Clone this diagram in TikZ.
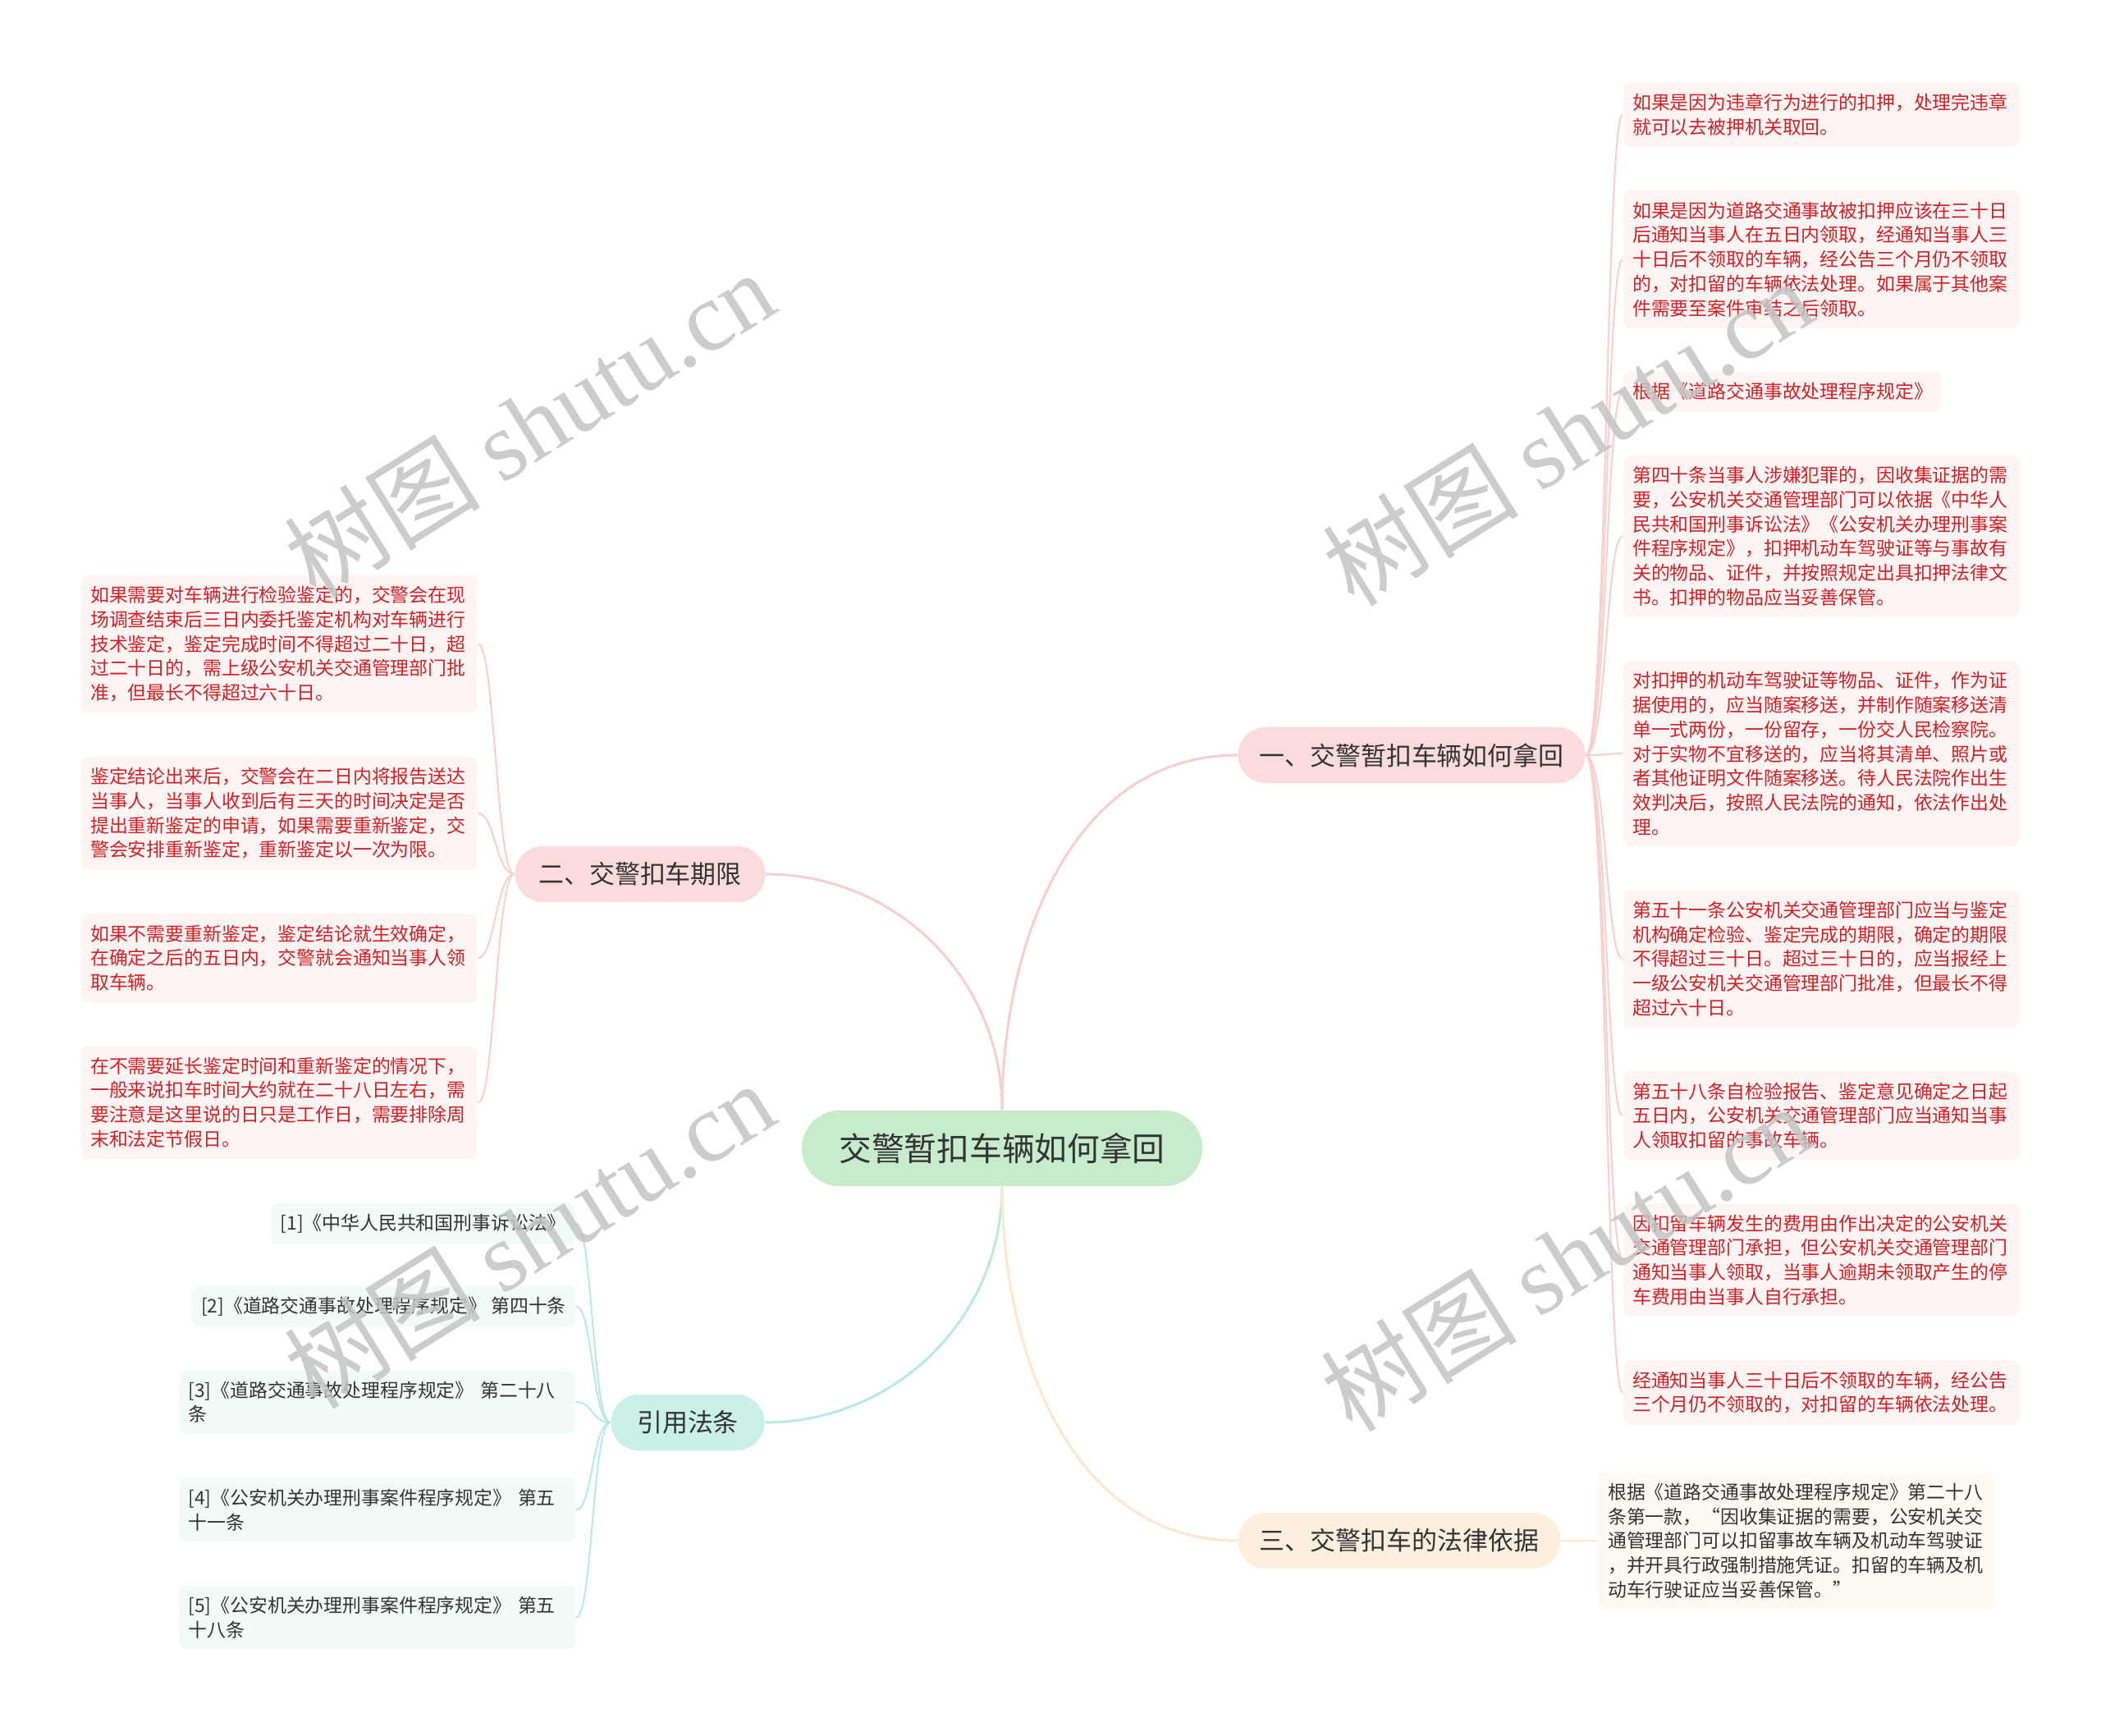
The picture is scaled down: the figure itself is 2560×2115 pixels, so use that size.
\documentclass[tikz,border=0pt]{standalone}
\usepackage{fontspec}
\setmainfont{Noto Sans CJK SC}
\newfontfamily\wmfont{Liberation Serif}
\usetikzlibrary{positioning}

\definecolor{rootgreen}{RGB}{198,236,204}
\definecolor{branchpink}{RGB}{251,219,219}
\definecolor{branchteal}{RGB}{202,240,234}
\definecolor{branchpeach}{RGB}{253,239,222}
\definecolor{leafpink}{RGB}{253,244,244}
\definecolor{leafteal}{RGB}{243,250,250}
\definecolor{leafpeach}{RGB}{253,250,244}
\definecolor{leafred}{RGB}{206,34,38}
\definecolor{textgray}{RGB}{51,51,51}
\definecolor{linkpink}{RGB}{247,208,208}
\definecolor{linkteal}{RGB}{188,234,227}
\definecolor{linkpeach}{RGB}{253,232,208}
\definecolor{wmgray}{RGB}{196,196,196}

\begin{document}
\begin{tikzpicture}[x=0.01cm,y=-0.01cm,
    root/.style={rectangle,rounded corners=0.46cm,fill=rootgreen,text=textgray,font=\fontsize{11.3pt}{14pt}\selectfont,minimum width=4.88cm,minimum height=0.92cm,inner sep=0pt},
    branch/.style={rectangle,rounded corners=0.34cm,text=textgray,font=\fontsize{8.8pt}{10pt}\selectfont,minimum height=0.68cm,inner sep=0pt},
    leaf/.style={rectangle,rounded corners=0.1cm,align=left,inner xsep=0.115cm,inner ysep=0.135cm,font=\fontsize{6.5pt}{8.45pt}\selectfont},
    wide/.style={text width=4.6cm},
    redleaf/.style={leaf,fill=leafpink,text=leafred},
    refleaf/.style={leaf,fill=leafteal,text=textgray},
    lawleaf/.style={leaf,fill=leafpeach,text=textgray},
    link/.style={line width=0.9pt},
    twig/.style={line width=0.6pt},
    wmark/.style={rotate=32,text=wmgray,opacity=0.85,font=\fontsize{34pt}{34pt}\selectfont}
    ]

    \fill[white] (0,0) rectangle (2560,2115);
    \useasboundingbox (0,0) rectangle (2560,2115);

    % centre and branches
    \node[root] (root) at (1221,1399) {交警暂扣车辆如何拿回};
    \node[branch,fill=branchpink,minimum width=4.23cm] (take) at (1720,920) {一、交警暂扣车辆如何拿回};
    \node[branch,fill=branchpink,minimum width=3.05cm] (term) at (780,1065) {二、交警扣车期限};
    \node[branch,fill=branchteal,minimum width=1.87cm] (cite) at (838,1733) {引用法条};
    \node[branch,fill=branchpeach,minimum width=3.93cm] (basis) at (1705,1877) {三、交警扣车的法律依据};

    % 一
    \node[redleaf,wide,anchor=north west] (take1) at (1977,100) {如果是因为违章行为进行的扣押，处理完违章\\就可以去被押机关取回。};
    \node[redleaf,wide,below right=0.52cm and 0cm of take1.south west] (take2) {如果是因为道路交通事故被扣押应该在三十日\\后通知当事人在五日内领取，经通知当事人三\\十日后不领取的车辆，经公告三个月仍不领取\\的，对扣留的车辆依法处理。如果属于其他案\\件需要至案件审结之后领取。};
    \node[redleaf,below right=0.52cm and 0cm of take2.south west] (take3) {根据《道路交通事故处理程序规定》};
    \node[redleaf,wide,below right=0.52cm and 0cm of take3.south west] (take4) {第四十条当事人涉嫌犯罪的，因收集证据的需\\要，公安机关交通管理部门可以依据《中华人\\民共和国刑事诉讼法》《公安机关办理刑事案\\件程序规定》，扣押机动车驾驶证等与事故有\\关的物品、证件，并按照规定出具扣押法律文\\书。扣押的物品应当妥善保管。};
    \node[redleaf,wide,below right=0.52cm and 0cm of take4.south west] (take5) {对扣押的机动车驾驶证等物品、证件，作为证\\据使用的，应当随案移送，并制作随案移送清\\单一式两份，一份留存，一份交人民检察院。\\对于实物不宜移送的，应当将其清单、照片或\\者其他证明文件随案移送。待人民法院作出生\\效判决后，按照人民法院的通知，依法作出处\\理。};
    \node[redleaf,wide,below right=0.52cm and 0cm of take5.south west] (take6) {第五十一条公安机关交通管理部门应当与鉴定\\机构确定检验、鉴定完成的期限，确定的期限\\不得超过三十日。超过三十日的，应当报经上\\一级公安机关交通管理部门批准，但最长不得\\超过六十日。};
    \node[redleaf,wide,below right=0.52cm and 0cm of take6.south west] (take7) {第五十八条自检验报告、鉴定意见确定之日起\\五日内，公安机关交通管理部门应当通知当事\\人领取扣留的事故车辆。};
    \node[redleaf,wide,below right=0.52cm and 0cm of take7.south west] (take8) {因扣留车辆发生的费用由作出决定的公安机关\\交通管理部门承担，但公安机关交通管理部门\\通知当事人领取，当事人逾期未领取产生的停\\车费用由当事人自行承担。};
    \node[redleaf,wide,below right=0.52cm and 0cm of take8.south west] (take9) {经通知当事人三十日后不领取的车辆，经公告\\三个月仍不领取的，对扣留的车辆依法处理。};

    % 二
    \node[redleaf,wide,anchor=north west] (term1) at (98,700) {如果需要对车辆进行检验鉴定的，交警会在现\\场调查结束后三日内委托鉴定机构对车辆进行\\技术鉴定，鉴定完成时间不得超过二十日，超\\过二十日的，需上级公安机关交通管理部门批\\准，但最长不得超过六十日。};
    \node[redleaf,wide,below=0.52cm of term1] (term2) {鉴定结论出来后，交警会在二日内将报告送达\\当事人，当事人收到后有三天的时间决定是否\\提出重新鉴定的申请，如果需要重新鉴定，交\\警会安排重新鉴定，重新鉴定以一次为限。};
    \node[redleaf,wide,below=0.52cm of term2] (term3) {如果不需要重新鉴定，鉴定结论就生效确定，\\在确定之后的五日内，交警就会通知当事人领\\取车辆。};
    \node[redleaf,wide,below=0.52cm of term3] (term4) {在不需要延长鉴定时间和重新鉴定的情况下，\\一般来说扣车时间大约就在二十八日左右，需\\要注意是这里说的日只是工作日，需要排除周\\末和法定节假日。};

    % 引用法条
    \node[refleaf,anchor=north east] (cite1) at (702,1465) {[1]《中华人民共和国刑事诉讼法》};
    \node[refleaf,below left=0.49cm and 0cm of cite1.south east] (cite2) {[2]《道路交通事故处理程序规定》 第四十条};
    \node[refleaf,wide,below left=0.51cm and 0cm of cite2.south east] (cite3) {[3]《道路交通事故处理程序规定》 第二十八\\条};
    \node[refleaf,wide,below left=0.52cm and 0cm of cite3.south east] (cite4) {[4]《公安机关办理刑事案件程序规定》 第五\\十一条};
    \node[refleaf,wide,below left=0.52cm and 0cm of cite4.south east] (cite5) {[5]《公安机关办理刑事案件程序规定》 第五\\十八条};

    % 三
    \node[lawleaf,wide,anchor=west] (basis1) at (1947,1877) {根据《道路交通事故处理程序规定》第二十八\\条第一款，“因收集证据的需要，公安机关交\\通管理部门可以扣留事故车辆及机动车驾驶证\\，并开具行政强制措施凭证。扣留的车辆及机\\动车行驶证应当妥善保管。”};

    % connectors
    \draw[link,linkpink] (root.north) to[out=90,in=180] (take.west);
    \draw[link,linkpink] (root.north) to[out=90,in=0] (term.east);
    \draw[link,linkteal] (root.south) to[out=-90,in=0] (cite.east);
    \draw[link,linkpeach] (root.south) to[out=-90,in=180] (basis.west);

    \foreach \i in {1,...,9}
      \draw[twig,linkpink] (take.east) .. controls +(0.25cm,0) and +(-0.2cm,0) .. (take\i.west);
    \foreach \i in {1,...,4}
      \draw[twig,linkpink] (term.west) .. controls +(-0.22cm,0) and +(0.2cm,0) .. (term\i.east);
    \foreach \i in {1,...,5}
      \draw[twig,linkteal] (cite.west) .. controls +(-0.22cm,0) and +(0.2cm,0) .. (cite\i.east);
    \draw[twig,linkpeach] (basis.east) -- (basis1.west);

    % watermark
    \foreach \p [count=\k] in {(645,516),(645,1504),(1910,526),(1908,1532)}
      \node[wmark] (wm\k) at \p {树图 {\wmfont shutu.cn}};

  \end{tikzpicture}
\end{document}
